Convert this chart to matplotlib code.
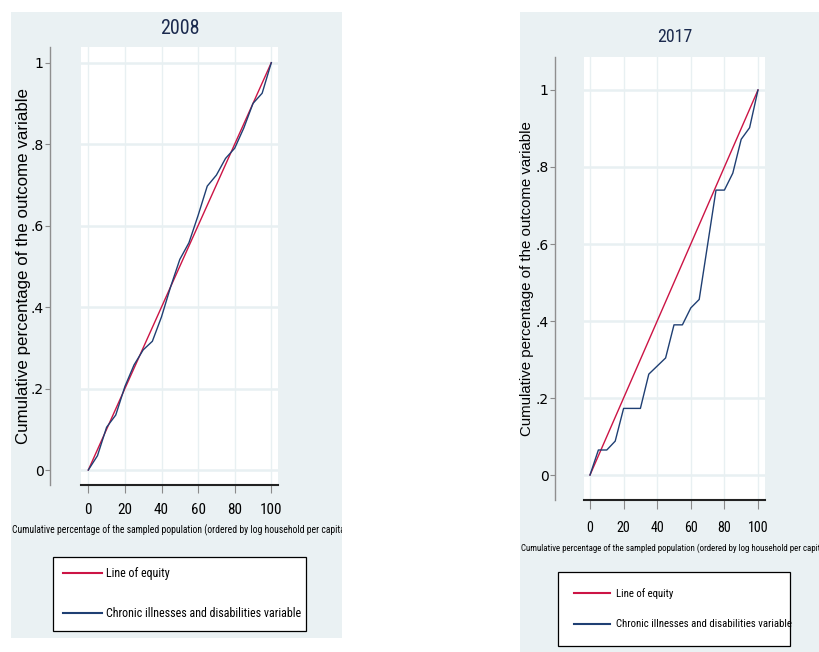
import matplotlib
matplotlib.use("Agg")
import matplotlib.pyplot as plt
from matplotlib import font_manager as fm
from matplotlib.patches import Rectangle
from matplotlib.transforms import Bbox, TransformedBbox
from matplotlib.font_manager import FontProperties

# ---- data -------------------------------------------------------------
population_pct = [0, 5, 10, 15, 20, 25, 30, 35, 40, 45, 50,
                  55, 60, 65, 70, 75, 80, 85, 90, 95, 100]
conc_2008 = [0.0, 0.035, 0.105, 0.135, 0.205, 0.258, 0.295, 0.316, 0.376, 0.450, 0.517,
             0.558, 0.625, 0.697, 0.724, 0.765, 0.790, 0.840, 0.900, 0.925, 1.0]
conc_2017 = [0.0, 0.065, 0.065, 0.088, 0.173, 0.173, 0.173, 0.262, 0.283, 0.304, 0.390,
             0.390, 0.434, 0.456, 0.598, 0.740, 0.740, 0.784, 0.872, 0.902, 1.0]
equity_x = [0, 100]
equity_y = [0, 1]

years = ["2008", "2017"]
x_ticks = [0, 20, 40, 60, 80, 100]
y_ticks = [0, 0.2, 0.4, 0.6, 0.8, 1.0]
y_tick_labels = ["0", ".2", ".4", ".6", ".8", "1"]
legend_labels = ["Line of equity", "Chronic illnesses and disabilities variable"]
x_title = ("Cumulative percentage of the sampled population "
           "(ordered by log household per capita)")
y_title = "Cumulative percentage of the outcome variable"

# ---- style ------------------------------------------------------------
W, H = 819, 652
BG = "#EAF1F3"
GRID = "#E8F0F2"
RED = "#CC1445"
NAVY = "#1F3F73"
TITLE_C = "#1B2A4E"
REGULAR = ["Liberation Sans", "DejaVu Sans"]

# a condensed sans face if one is available, otherwise the regular one
_entries = fm.fontManager.ttflist
_names = {f.name for f in _entries}
_narrow_name, _narrow_stretch = "Liberation Sans", "normal"
for cand in ["Liberation Sans Narrow", "Arial Narrow", "Roboto Condensed",
             "Noto Sans Condensed", "Open Sans Condensed", "DejaVu Sans Condensed"]:
    if cand in _names:
        _narrow_name = cand
        break
else:
    for f in _entries:
        if (f.stretch in ("condensed", "semi-condensed") and f.style == "normal"
                and "Sans" in f.name and "Mono" not in f.name and "CJK" not in f.name):
            _narrow_name, _narrow_stretch = f.name, f.stretch
            break


def narrow(size):
    return FontProperties(family=[_narrow_name, "Liberation Sans", "DejaVu Sans"],
                          stretch=_narrow_stretch, size=size)


def regular(size):
    return FontProperties(family=REGULAR, size=size)


def fx(px):
    return px / W


def fy(py):
    return 1 - py / H


def pt(px):
    return px * 72 / 100


fig = plt.figure(figsize=(W / 100, H / 100), dpi=100, facecolor="white")
renderer = fig.canvas.get_renderer()


def text_len(s, fp, rotation=0):
    t = fig.text(0, 0, s, fontproperties=fp, rotation=rotation)
    bb = t.get_window_extent(renderer)
    t.remove()
    return bb.height if rotation else bb.width


def fit_size(s, fp_fn, target_px, rotation=0):
    base = 10.0
    return base * target_px / text_len(s, fp_fn(base), rotation)


panels = [
    dict(conc=conc_2008, year=years[0],
         panel=(11, 12, 342, 638), axes=(81, 47, 278, 485),
         xlim=(-3.99, 103.66), ylim=(-0.0368, 1.0385),
         title_y=28, title_w=28, ylab_x=24, ylab_len=355, xlab_y=530, xlab_w=332,
         spine_off=31, ytick_len=14,
         legend=(53, 557, 306, 633), leg_w=195, leg_rows=(579, 620), leg_handle=(58, 97, 101),
         xtick_len=8, xtick_w=17, xtick_y=509),
    dict(conc=conc_2017, year=years[1],
         panel=(520, 12, 819, 652), axes=(584, 57, 765, 500),
         xlim=(-3.57, 104.17), ylim=(-0.0649, 1.0857),
         title_y=37, title_w=25, ylab_x=527, ylab_len=315, xlab_y=548, xlab_w=305,
         spine_off=29, ytick_len=12,
         legend=(558, 572, 790, 650), leg_w=175, leg_rows=(594, 627), leg_handle=(563, 599, 605),
         xtick_len=9, xtick_w=15.7, xtick_y=527),
]

for p in panels:
    px0, py0, px1, py1 = p["panel"]
    bg = Rectangle((fx(px0), fy(py1)), (px1 - px0) / W, (py1 - py0) / H,
                   transform=fig.transFigure, facecolor=BG, edgecolor="none",
                   zorder=-5)
    fig.add_artist(bg)
    clip = TransformedBbox(Bbox.from_extents(fx(px0), fy(py1), fx(px1), fy(py0)),
                           fig.transFigure)

    ax0, ay0, ax1, ay1 = p["axes"]
    ax = fig.add_axes([fx(ax0), fy(ay1), (ax1 - ax0) / W, (ay1 - ay0) / H])
    ax.set_facecolor("white")

    eq_line, = ax.plot(equity_x, equity_y, color=RED, lw=1.0, zorder=3)
    cc_line, = ax.plot(population_pct, p["conc"], color=NAVY, lw=1.0, zorder=4)

    ax.set_xlim(*p["xlim"])
    ax.set_ylim(*p["ylim"])

    # font sizes sized from the space each text has
    xt_size = fit_size("100", narrow, p["xtick_w"]) * 1.3
    yt_size = fit_size(".8", regular, p["ytick_len"], rotation=90)
    xl_size = fit_size(x_title, narrow, p["xlab_w"])
    yl_size = fit_size(y_title, regular, p["ylab_len"], rotation=90)
    ti_size = fit_size(p["year"], narrow, p["title_w"]) * 1.4
    lg_size = fit_size(legend_labels[1], narrow, p["leg_w"])

    ax.set_xticks(x_ticks)
    ax.set_xticklabels([str(v) for v in x_ticks], fontproperties=narrow(xt_size))
    ax.set_yticks(y_ticks)
    ax.set_yticklabels(y_tick_labels, fontproperties=regular(yt_size),
                       rotation=90, va="center")

    ax.set_axisbelow(True)
    ax.grid(axis="y", color=GRID, lw=1.8)
    ax.grid(axis="x", color=GRID, lw=1.0)

    for side in ("top", "right"):
        ax.spines[side].set_visible(False)
    ax.spines["left"].set_position(("outward", pt(p["spine_off"])))
    ax.spines["left"].set_color("#8f8f8f")
    ax.spines["left"].set_linewidth(1.0)
    ax.spines["bottom"].set_color("#222222")
    ax.spines["bottom"].set_linewidth(1.5)

    xt_h = xt_size * 100 / 72 * 0.72
    xpad = (p["xtick_y"] - ay1) - p["xtick_len"] - xt_h / 2 - 1
    ax.tick_params(axis="x", direction="out", length=pt(p["xtick_len"]),
                   width=0.8, color="#8a8a8a", pad=pt(max(xpad, 1)),
                   labelcolor="black")
    ax.tick_params(axis="y", direction="out", length=pt(5), width=0.8,
                   color="#8a8a8a", pad=pt(1.5), labelcolor="black")

    # axis titles
    ax.set_xlabel(x_title, fontproperties=narrow(xl_size), color="black")
    ax.xaxis.set_label_coords(0.5, (ay1 - p["xlab_y"]) / (ay1 - ay0))
    ax.xaxis.label.set_va("center")
    ax.xaxis.label.set_clip_box(clip)
    ax.xaxis.label.set_clip_on(True)

    ax.set_ylabel(y_title, fontproperties=regular(yl_size), color="black")
    ax.yaxis.set_label_coords((p["ylab_x"] - ax0) / (ax1 - ax0), 0.5)
    ax.yaxis.label.set_va("center")

    # panel title
    fig.text(fx((ax0 + ax1) / 2), fy(p["title_y"]), p["year"], ha="center",
             va="center", fontproperties=narrow(ti_size), color=TITLE_C)

    # legend
    lx0, ly0, lx1, ly1 = p["legend"]
    fs = lg_size * 100 / 72
    row_h = fs * 1.17
    gap = p["leg_rows"][1] - p["leg_rows"][0]
    lspace = (gap - row_h) / fs
    bpad = ((ly1 - ly0) - 2 * row_h - lspace * fs) / (2 * fs)
    h0, h1, t0 = p["leg_handle"]
    leg = ax.legend([eq_line, cc_line], legend_labels, loc="upper left",
                    bbox_to_anchor=(fx(lx0), fy(ly1), (lx1 - lx0) / W, (ly1 - ly0) / H),
                    bbox_transform=fig.transFigure, mode="expand",
                    borderaxespad=0, frameon=True, fancybox=False,
                    edgecolor="black", facecolor="white", framealpha=1,
                    prop=narrow(lg_size),
                    handlelength=(h1 - h0) / fs, handletextpad=(t0 - h1) / fs,
                    labelspacing=lspace, borderpad=bpad)
    leg.get_frame().set_linewidth(0.9)
    for h in leg.legend_handles:
        h.set_linewidth(1.5)

fig.savefig("out.png", dpi=100, facecolor="white")
